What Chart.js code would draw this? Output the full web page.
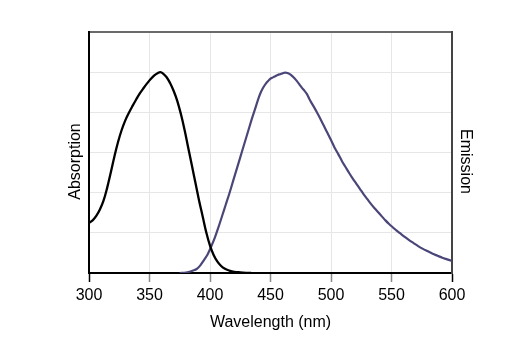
<!DOCTYPE html>
<html>
<head>
<meta charset="utf-8">
<script src="https://cdn.jsdelivr.net/npm/chart.js@4.4.1/dist/chart.umd.min.js"></script>
<style>
  html, body { margin: 0; padding: 0; background: #fff; }
  #wrap { width: 516px; height: 342px; }
</style>
</head>
<body>
<div id="wrap"><canvas id="spectra" width="516" height="342"></canvas></div>
<script>
// axis labels
const xTickValues = [300, 350, 400, 450, 500, 550, 600];
const xTitle = "Wavelength (nm)";
const leftTitle = "Absorption";
const rightTitle = "Emission";

// absorption spectrum (arbitrary units 0..6)
const absWl  = [300, 303, 306, 309, 312, 315, 318, 321, 324, 327, 330, 333, 336, 339, 342, 345, 348, 351, 354, 357, 359,
                361, 364, 367, 370, 373, 376, 379, 382, 385, 388, 391, 394, 397, 400, 403, 406, 409, 412, 416, 420, 425, 430, 434];
const absVal = [1.25, 1.31, 1.42, 1.58, 1.8, 2.12, 2.5, 2.9, 3.26, 3.56, 3.8, 3.99, 4.16, 4.32, 4.47, 4.6, 4.72, 4.83, 4.92, 4.98, 5.0,
                4.97, 4.88, 4.73, 4.53, 4.28, 3.95, 3.56, 3.12, 2.68, 2.24, 1.8, 1.4, 1.0, 0.68, 0.45, 0.29, 0.18, 0.11, 0.06, 0.03, 0.015, 0.005, 0];

// emission spectrum
const emWl  = [375, 380, 383, 386, 389, 392, 395, 398, 401, 404, 407, 410, 413, 416, 419, 422, 425, 428, 431, 434, 437, 440,
               442, 444, 446, 448, 450, 452, 454, 456, 458, 460, 462, 464, 466, 468, 470, 472, 474, 476, 478, 480, 482, 484,
               486, 488, 490, 492, 494, 496, 498, 500, 503, 506, 509, 512, 515, 518, 521, 524, 527, 530, 533, 536, 539, 542,
               545, 548, 551, 554, 557, 560, 564, 568, 572, 576, 580, 584, 588, 592, 596, 600];
const emVal = [0.0, 0.01, 0.03, 0.06, 0.1, 0.19, 0.32, 0.46, 0.66, 0.88, 1.14, 1.42, 1.7, 1.98, 2.28, 2.58, 2.88, 3.18, 3.48, 3.78, 4.06, 4.34,
               4.5, 4.62, 4.71, 4.78, 4.84, 4.87, 4.9, 4.93, 4.95, 4.97, 4.99, 4.98, 4.95, 4.9, 4.84, 4.77, 4.69, 4.61, 4.54, 4.46, 4.34, 4.23,
               4.13, 4.02, 3.91, 3.79, 3.67, 3.55, 3.43, 3.31, 3.12, 2.96, 2.79, 2.64, 2.49, 2.35, 2.22, 2.09, 1.96, 1.84, 1.72, 1.61, 1.51, 1.41,
               1.31, 1.22, 1.14, 1.06, 0.99, 0.92, 0.83, 0.75, 0.67, 0.6, 0.54, 0.48, 0.43, 0.38, 0.34, 0.3];

const FONT = "'Liberation Sans', Arial, sans-serif";
Chart.defaults.font.family = FONT;
Chart.defaults.color = "#000";

const toPoints = (xs, ys) => xs.map((x, i) => ({ x, y: ys[i] }));

// y titles sit a bit below the plot centre in the original, so draw them by hand
const sideTitles = {
  id: "sideTitles",
  afterDraw(chart) {
    const { ctx, chartArea: a } = chart;
    const midY = (a.top + a.bottom) / 2 + 9;
    [[leftTitle, a.left - 13, -1], [rightTitle, a.right + 13, 1]].forEach(([text, x, dir]) => {
      ctx.save();
      ctx.font = "16px " + FONT;
      ctx.fillStyle = "#000";
      ctx.textAlign = "center";
      ctx.textBaseline = "middle";
      ctx.translate(x, midY);
      ctx.rotate(dir * Math.PI / 2);
      ctx.fillText(text, 0, 0);
      ctx.restore();
    });
  },
};

new Chart(document.getElementById("spectra"), {
  type: "line",
  data: {
    datasets: [
      {
        label: leftTitle,
        data: toPoints(absWl, absVal),
        yAxisID: "yAbs",
        borderColor: "#000",
        borderWidth: 2.3,
        pointRadius: 0,
        tension: 0.4,
      },
      {
        label: rightTitle,
        data: toPoints(emWl, emVal),
        yAxisID: "yEm",
        borderColor: "#4b4678",
        borderWidth: 2.2,
        pointRadius: 0,
        tension: 0.3,
      },
    ],
  },
  options: {
    responsive: false,
    animation: false,
    layout: { padding: 0 },
    plugins: { legend: { display: false }, tooltip: { enabled: false } },
    scales: {
      x: {
        type: "linear",
        position: "bottom",
        min: 300,
        max: 600,
        afterBuildTicks: (s) => { s.ticks = xTickValues.map((v) => ({ value: v })); },
        afterFit: (s) => { s.height = 69; },
        ticks: { font: { size: 16 }, color: "#000", padding: 4, maxRotation: 0 },
        grid: {
          color: "#e6e6e6",
          lineWidth: 1,
          tickLength: 9,
          tickWidth: 1.5,
          tickColor: (c) => (c.tick && (c.tick.value === 300 || c.tick.value === 600) ? "#000" : "#8a8a8a"),
        },
        border: { color: "#000", width: 2 },
        title: { display: true, text: xTitle, font: { size: 16 }, color: "#000", padding: { top: 0, bottom: 10 } },
      },
      xTop: {
        type: "linear",
        position: "top",
        display: true,
        min: 300,
        max: 600,
        afterFit: (s) => { s.height = 32; },
        ticks: { display: false },
        grid: { display: false, drawTicks: false },
        border: { color: "#6a6a6a", width: 2 },
      },
      yAbs: {
        type: "linear",
        position: "left",
        min: 0,
        max: 6,
        afterFit: (s) => { s.width = 89; },
        ticks: { display: false, stepSize: 1 },
        grid: { color: "#e6e6e6", lineWidth: 1, drawTicks: false },
        border: { color: "#000", width: 2 },
      },
      yEm: {
        type: "linear",
        position: "right",
        min: 0,
        max: 6,
        afterFit: (s) => { s.width = 64; },
        ticks: { display: false },
        grid: { display: false, drawTicks: false },
        border: { color: "#444", width: 2 },
      },
    },
  },
  plugins: [sideTitles],
});
</script>
</body>
</html>
